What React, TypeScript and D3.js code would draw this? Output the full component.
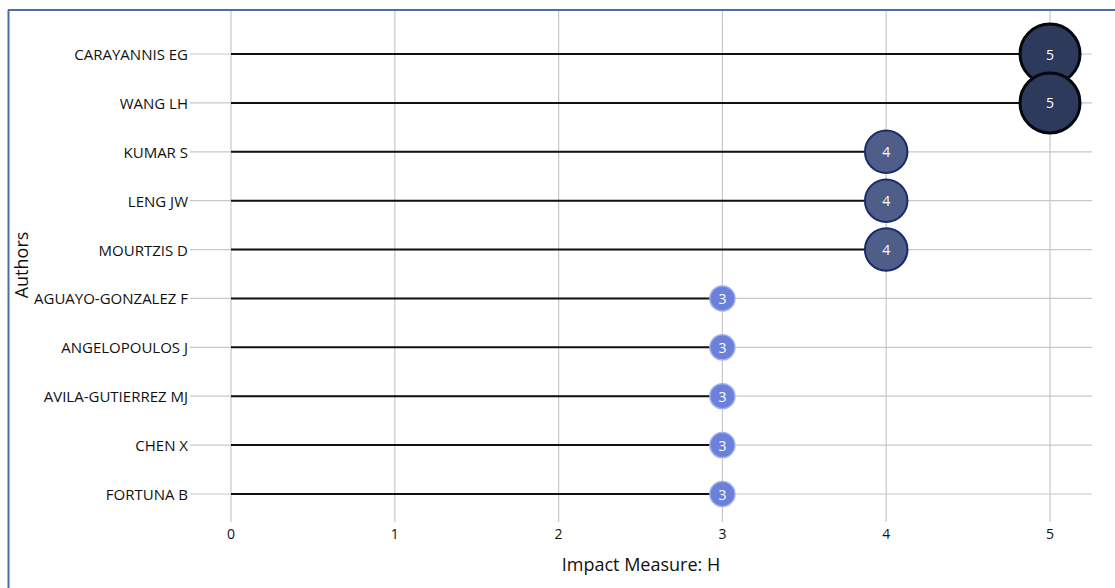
import React from "react";
import * as d3 from "d3";

const authors = [
  "CARAYANNIS EG",
  "WANG LH",
  "KUMAR S",
  "LENG JW",
  "MOURTZIS D",
  "AGUAYO-GONZALEZ F",
  "ANGELOPOULOS J",
  "AVILA-GUTIERREZ MJ",
  "CHEN X",
  "FORTUNA B",
];
const hIndex = [5, 5, 4, 4, 4, 3, 3, 3, 3, 3];
const xTicks = [0, 1, 2, 3, 4, 5];

const W = 1115;
const H = 588;
const x0 = 231;
const x5 = 1050;
const plotRight = 1092;
const topY = 10;
const firstRow = 54;
const lastRow = 494;

export default function App() {
  const x = d3.scaleLinear().domain([0, 5]).range([x0, x5]);
  const y = d3
    .scalePoint<string>()
    .domain(authors)
    .range([firstRow, lastRow]);
  const r = d3.scaleLinear().domain([3, 5]).range([12.5, 30]);
  const fill = (v: number) => (v >= 5 ? "#2e3a5c" : v >= 4 ? "#4f5e88" : "#6b80d8");
  const stroke = (v: number) => (v >= 5 ? "#05070f" : v >= 4 ? "#1a2a68" : "#9eadf0");
  const sw = (v: number) => (v >= 5 ? 3 : v >= 4 ? 2 : 1.5);
  const font = "'Open Sans', 'Noto Sans', sans-serif";

  return (
    <svg
      width={W}
      height={H}
      style={{ position: "absolute", left: 0, top: 0, background: "#fff" }}
      fontFamily={font}
    >
      {/* frame */}
      <line x1={8.5} y1={topY} x2={8.5} y2={H} stroke="#4a6ea6" strokeWidth={2} />
      <line x1={8} y1={topY} x2={W} y2={topY} stroke="#4a6ea6" strokeWidth={2} />

      {/* vertical grid */}
      {xTicks.map((t) => (
        <line
          key={"vg" + t}
          x1={x(t)}
          x2={x(t)}
          y1={topY + 1}
          y2={522}
          stroke="#c8c8c8"
          strokeWidth={1.2}
        />
      ))}
      {/* horizontal grid + y ticks */}
      {authors.map((a) => (
        <line
          key={"hg" + a}
          x1={190}
          x2={plotRight}
          y1={y(a)!}
          y2={y(a)!}
          stroke="#c8c8c8"
          strokeWidth={1.2}
        />
      ))}
      {/* y labels */}
      {authors.map((a) => (
        <text
          key={"yl" + a}
          x={188}
          y={y(a)!}
          textAnchor="end"
          dominantBaseline="central"
          fontSize={15}
          fill="#111"
        >
          {a}
        </text>
      ))}
      {/* x tick labels */}
      {xTicks.map((t) => (
        <text
          key={"xl" + t}
          x={x(t)}
          y={533}
          textAnchor="middle"
          dominantBaseline="central"
          fontSize={14}
          fill="#111"
        >
          {t}
        </text>
      ))}
      {/* axis titles */}
      <text
        x={641}
        y={564}
        textAnchor="middle"
        dominantBaseline="central"
        fontSize={18}
        fill="#111"
      >
        Impact Measure: H
      </text>
      <text
        transform={`translate(21,265) rotate(-90)`}
        textAnchor="middle"
        dominantBaseline="central"
        fontSize={18}
        fill="#111"
      >
        Authors
      </text>

      {/* stems */}
      {authors.map((a, i) => (
        <line
          key={"st" + a}
          x1={x(0)}
          x2={x(hIndex[i])}
          y1={y(a)!}
          y2={y(a)!}
          stroke="#111"
          strokeWidth={2}
        />
      ))}
      {/* circles */}
      {authors.map((a, i) => (
        <circle
          key={"c" + a}
          cx={x(hIndex[i])}
          cy={y(a)!}
          r={r(hIndex[i])}
          fill={fill(hIndex[i])}
          stroke={stroke(hIndex[i])}
          strokeWidth={sw(hIndex[i])}
        />
      ))}
      {authors.map((a, i) => (
        <text
          key={"ct" + a}
          x={x(hIndex[i])}
          y={y(a)!}
          textAnchor="middle"
          dominantBaseline="central"
          fontSize={14}
          fill="#fff"
        >
          {hIndex[i]}
        </text>
      ))}
    </svg>
  );
}
